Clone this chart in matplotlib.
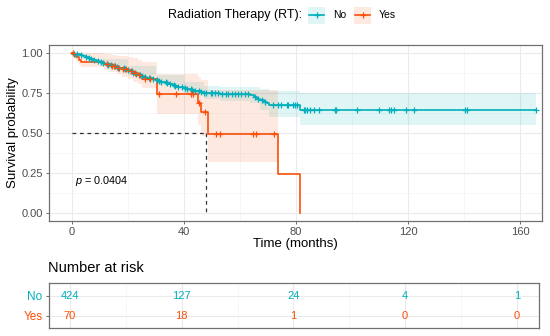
"""Kaplan-Meier survival by radiation therapy, with number-at-risk table."""

import numpy as np
import matplotlib
matplotlib.use("Agg")
import matplotlib.pyplot as plt
from matplotlib.lines import Line2D
from matplotlib.patches import Rectangle
from matplotlib.ticker import MultipleLocator

plt.rcParams["font.family"] = ["Liberation Sans", "DejaVu Sans"]
plt.rcParams["mathtext.fontset"] = "custom"
plt.rcParams["mathtext.it"] = "Liberation Sans:italic"
plt.rcParams["mathtext.rm"] = "Liberation Sans"

TEAL = "#00AFBB"
ORANGE = "#FC4E07"
GRID = "#EBEBEB"
TICK_GRAY = "#4D4D4D"

# --- RT = No -------------------------------------------------------------
times_no = [0, 1, 2, 3, 4, 5, 6, 7, 8, 9, 10, 11, 12, 13, 14, 15, 16, 17, 18,
            19, 20, 21, 22, 23, 24, 25, 26, 27, 28, 29, 30, 31, 32, 33, 34,
            35, 36, 37, 38, 39, 40, 41, 42, 43, 44, 45, 46, 47, 49, 51, 53,
            63.5, 65, 66, 67, 68.5, 69.5, 70.5, 81.4]
surv_no = [1.0, 0.995, 0.99, 0.985, 0.98, 0.975, 0.97, 0.962, 0.955, 0.948,
           0.942, 0.937, 0.932, 0.926, 0.921, 0.916, 0.912, 0.907, 0.903,
           0.897, 0.89, 0.884, 0.877, 0.869, 0.862, 0.857, 0.851, 0.846, 0.84,
           0.835, 0.83, 0.826, 0.82, 0.815, 0.81, 0.805, 0.80, 0.795, 0.79,
           0.786, 0.781, 0.777, 0.772, 0.768, 0.764, 0.759, 0.755, 0.752,
           0.75, 0.748, 0.745, 0.735, 0.725, 0.715, 0.705, 0.695, 0.685,
           0.676, 0.643]
band_t_no = [0, 10, 20, 30, 40, 47, 53, 63.5, 67, 70.5, 81.4, 165.4]
band_hi_no = [1.0, 0.962, 0.915, 0.862, 0.815, 0.792, 0.79, 0.785, 0.775,
              0.765, 0.752, 0.752]
band_lo_no = [1.0, 0.92, 0.863, 0.797, 0.745, 0.712, 0.70, 0.685, 0.645,
              0.60, 0.553, 0.553]
censor_no = [1, 2, 3.5, 5, 6, 7, 8, 9.5, 10.5, 11, 12.5, 13, 14, 15.5, 16,
             17, 18.5, 19, 20, 21.5, 22, 23, 24.5, 25, 26, 27.5, 28, 29, 30.5,
             31, 32, 33.5, 34, 35, 36.5, 37, 38, 39.5, 40.5, 41, 42.5, 43, 44,
             45.5, 46, 47, 48, 49.5, 50, 51, 52, 53.5, 55, 55.8, 57, 58.2,
             59.4, 60.2, 61.8, 62.9, 65.5, 66.5, 68, 69, 71.8, 73.6, 74.8,
             76.6, 77.2, 79, 79.6, 80.2, 82.8, 83.2, 83.9, 84.9, 86.3, 88.1,
             93.8, 94.2, 101.8, 109.5, 113.1, 113.7, 114.9, 119.3, 122.1,
             140.2, 140.8, 165.4]

# --- RT = Yes ------------------------------------------------------------
times_yes = [0, 0.8, 1.5, 2.5, 3.5, 11.5, 14, 16, 18, 20, 22, 23.5, 25, 30.5,
             45.1, 46.2, 48.7, 73.4, 81.4]
surv_yes = [1.0, 0.986, 0.971, 0.957, 0.94, 0.928, 0.918, 0.908, 0.897,
            0.886, 0.874, 0.86, 0.835, 0.741, 0.69, 0.63, 0.495, 0.247, 0.0]
band_t_yes = [0, 0.8, 1.5, 2.5, 3.5, 11.5, 14, 16, 18, 20, 22, 23.5, 25,
              30.5, 45.1, 46.2, 48.7, 73.4]
band_hi_yes = [1.0, 1.0, 1.0, 1.0, 0.998, 0.993, 0.988, 0.983, 0.978, 0.972,
               0.965, 0.955, 0.94, 0.87, 0.85, 0.83, 0.767, 0.767]
band_lo_yes = [1.0, 0.96, 0.94, 0.925, 0.91, 0.895, 0.88, 0.865, 0.85, 0.835,
               0.82, 0.805, 0.78, 0.62, 0.55, 0.48, 0.32, 0.32]
censor_yes = [0.4, 12.5, 14.5, 15.2, 16.5, 18.3, 19.5, 21, 22.5, 24, 26.2,
              28, 31, 37.2, 42.7, 43.3, 45.5, 47.5, 51.4, 52.8, 64.7, 65.7,
              72.2]

median_yes = 48.0
p_value = "0.0404"

risk_times = [0, 40, 80, 120, 160]
risk_no = [424, 127, 24, 4, 1]
risk_yes = [70, 18, 1, 0, 0]


def surv_at(t, times, surv):
    idx = np.searchsorted(times, t, side="right") - 1
    return np.asarray(surv)[idx]


def style_panel(ax):
    for sp in ax.spines.values():
        sp.set_color("#707070")
        sp.set_linewidth(0.9)
    ax.grid(True, which="major", color=GRID, linewidth=0.8)
    ax.grid(True, which="minor", color="#F4F4F4", linewidth=0.5)
    ax.set_axisbelow(True)
    ax.tick_params(which="major", length=2.5, width=0.6, color="#555555",
                   labelcolor=TICK_GRAY, labelsize=8, pad=2)
    ax.tick_params(which="minor", length=0)


fig = plt.figure(figsize=(5.5, 3.36), dpi=100)

# ---- survival curves ----------------------------------------------------
ax = fig.add_axes([0.089, 0.343, 0.8956, 0.5238])
style_panel(ax)

ax.fill_between(band_t_no, band_lo_no, band_hi_no, step="post",
                color=TEAL, alpha=0.12, linewidth=0)
ax.fill_between(band_t_yes, band_lo_yes, band_hi_yes, step="post",
                color=ORANGE, alpha=0.12, linewidth=0)

ax.step(times_no + [censor_no[-1]], surv_no + [surv_no[-1]], where="post",
        color=TEAL, lw=1.2)
ax.step(times_yes, surv_yes, where="post", color=ORANGE, lw=1.2)

ax.plot(censor_no, surv_at(censor_no, times_no, surv_no), ls="none",
        marker="+", ms=4.5, mew=0.9, color=TEAL)
ax.plot(censor_yes, surv_at(censor_yes, times_yes, surv_yes), ls="none",
        marker="+", ms=4.5, mew=0.9, color=ORANGE)

# median survival for RT = Yes
ax.plot([0, median_yes], [0.5, 0.5], color="#333333", lw=0.9,
        dashes=(3, 3))
ax.plot([median_yes, median_yes], [0.5, 0], color="#333333", lw=0.9,
        dashes=(3, 3))

ax.text(1.2, 0.2, r"$p$ = " + p_value, fontsize=7.8, va="center",
        ha="left")

ax.set_xlim(-8.1, 167.5)
ax.set_ylim(-0.046, 1.05)
ax.set_xticks([0, 40, 80, 120, 160])
ax.xaxis.set_minor_locator(MultipleLocator(20))
ax.set_yticks([0, 0.25, 0.5, 0.75, 1.0])
ax.set_yticklabels(["0.00", "0.25", "0.50", "0.75", "1.00"])
ax.yaxis.set_minor_locator(MultipleLocator(0.125))

ax.set_xlabel("Time (months)", fontsize=9.5)
ax.xaxis.label.set_va("center")
ax.xaxis.set_label_coords(0.5, -0.132)
ax.set_ylabel("Survival probability", fontsize=9.5)
ax.yaxis.label.set_va("center")
ax.yaxis.set_label_coords(-0.073, 0.5)

# ---- legend on top -------------------------------------------------------
ly = 1 - 15 / 336
fig.text(168 / 550, ly, "Radiation Therapy (RT):", fontsize=9,
         ha="left", va="center")
for x0, col, lab in [(308, TEAL, "No"), (354, ORANGE, "Yes")]:
    fig.add_artist(Rectangle((x0 / 550, 1 - 24 / 336), 17 / 550, 17 / 336,
                             transform=fig.transFigure, color=col,
                             alpha=0.12, lw=0))
    fig.add_artist(Line2D([(x0 + 1) / 550, (x0 + 16) / 550], [ly, ly],
                          transform=fig.transFigure, color=col, lw=1.2))
    fig.add_artist(Line2D([(x0 + 8.5) / 550], [ly], marker="+", ms=4.5,
                          mew=0.9, transform=fig.transFigure, color=col))
    fig.text((x0 + 25) / 550, ly, lab, fontsize=7.5, ha="left",
             va="center")

# ---- number at risk ------------------------------------------------------
fig.text(48 / 550, 1 - 268 / 336, "Number at risk", fontsize=10.5,
         ha="left", va="center")

rax = fig.add_axes([0.0885, 0.0247, 0.892, 0.1321])
style_panel(rax)
for t, n_no, n_yes in zip(risk_times, risk_no, risk_yes):
    rax.text(t, 1, str(n_no), color=TEAL, fontsize=8, ha="center",
             va="center")
    rax.text(t, 0, str(n_yes), color=ORANGE, fontsize=8, ha="center",
             va="center")
rax.set_xlim(-7.6, 168)
rax.set_ylim(-0.58, 1.61)
rax.set_xticks(risk_times)
rax.xaxis.set_minor_locator(MultipleLocator(20))
rax.tick_params(axis="x", length=0, labelbottom=False)
rax.set_yticks([0, 1])
rax.set_yticklabels(["Yes", "No"], fontsize=8.5)
for lab, col in zip(rax.get_yticklabels(), [ORANGE, TEAL]):
    lab.set_color(col)

fig.savefig("out.png", dpi=100)
